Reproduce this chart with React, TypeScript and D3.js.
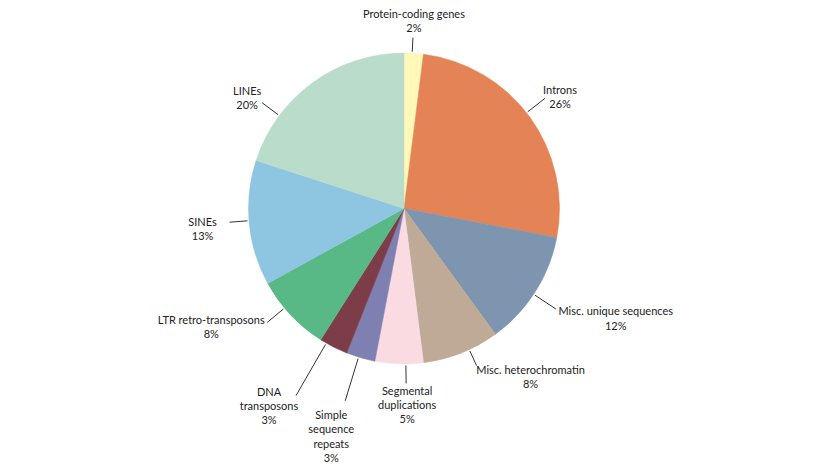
import React from "react";
import * as d3 from "d3";

const categories = [
  "Protein-coding genes",
  "Introns",
  "Misc. unique sequences",
  "Misc. heterochromatin",
  "Segmental duplications",
  "Simple sequence repeats",
  "DNA transposons",
  "LTR retro-transposons",
  "SINEs",
  "LINEs",
];
const values = [2, 26, 12, 8, 5, 3, 3, 8, 13, 20];
const valueLabels = ["2%", "26%", "12%", "8%", "5%", "3%", "3%", "8%", "13%", "20%"];
const colors = [
  "#FFF8B8", "#E48456", "#7E95AF", "#BEAA96", "#FADBE1",
  "#7F80B2", "#7D3D48", "#58B886", "#8EC5E1", "#BADCCA",
];
// label text lines (wrapping as in the reference)
const labelLines = [
  ["Protein-coding genes"],
  ["Introns"],
  ["Misc. unique sequences"],
  ["Misc. heterochromatin"],
  ["Segmental", "duplications"],
  ["Simple", "sequence", "repeats"],
  ["DNA", "transposons"],
  ["LTR retro-transposons"],
  ["SINEs"],
  ["LINEs"],
];
// layout: leader angle (deg), leader outer radius, label offset from leader end
const leaderAngle = [3.0, 52.0, 123.5, 155.2, 179.3, 197.0, 210.0, 230.2, 265.5, 306.7];
const leaderOuter = [171, 179, 182, 173, 175, 201, 216, 178, 175, 177];
const labelDx = [1, 15, 60, 54, 1, -14, -27, -56, -27, -15];
const labelDy = [-24, -9, 2, 4, 7, 14, -4, -3, -1, -12];

const W = 828;
const H = 466;
const cx = 404;
const cy = 208.5;
const R = 155.5;
const lineH = 14.2;

export default function App() {
  const data = categories.map((c, i) => ({ c, v: values[i], i }));
  const pie = d3.pie<any>().value((d) => d.v).sort(null);
  const arcs = pie(data);
  const arc = d3.arc<any>().innerRadius(0).outerRadius(R);
  const rad = (a: number) => (a * Math.PI) / 180;
  const pt = (a: number, r: number) => [cx + r * Math.sin(rad(a)), cy - r * Math.cos(rad(a))];

  return (
    <svg width={W} height={H} style={{ position: "absolute", left: 0, top: 0, background: "#fff" }}
      fontFamily="Lato, 'Open Sans', sans-serif" fontSize={11} fill="#222">
      <g transform={`translate(${cx},${cy})`}>
        {arcs.map((a, i) => (
          <path key={i} d={arc(a) as string} fill={colors[i]} stroke={colors[i]} strokeWidth={0.5} />
        ))}
      </g>
      {arcs.map((a, i) => {
        const [x1, y1] = pt(leaderAngle[i], R + 1.5);
        const [x2, y2] = pt(leaderAngle[i], leaderOuter[i]);
        const lines = [...labelLines[i], valueLabels[i]];
        const lx = x2 + labelDx[i];
        const ly = y2 + labelDy[i];
        return (
          <g key={i}>
            <line x1={x1} y1={y1} x2={x2} y2={y2} stroke="#333" strokeWidth={1} />
            {lines.map((t, k) => (
              <text key={k} x={lx} y={ly + k * lineH} textAnchor="middle" dominantBaseline="central">
                {t}
              </text>
            ))}
          </g>
        );
      })}
    </svg>
  );
}
